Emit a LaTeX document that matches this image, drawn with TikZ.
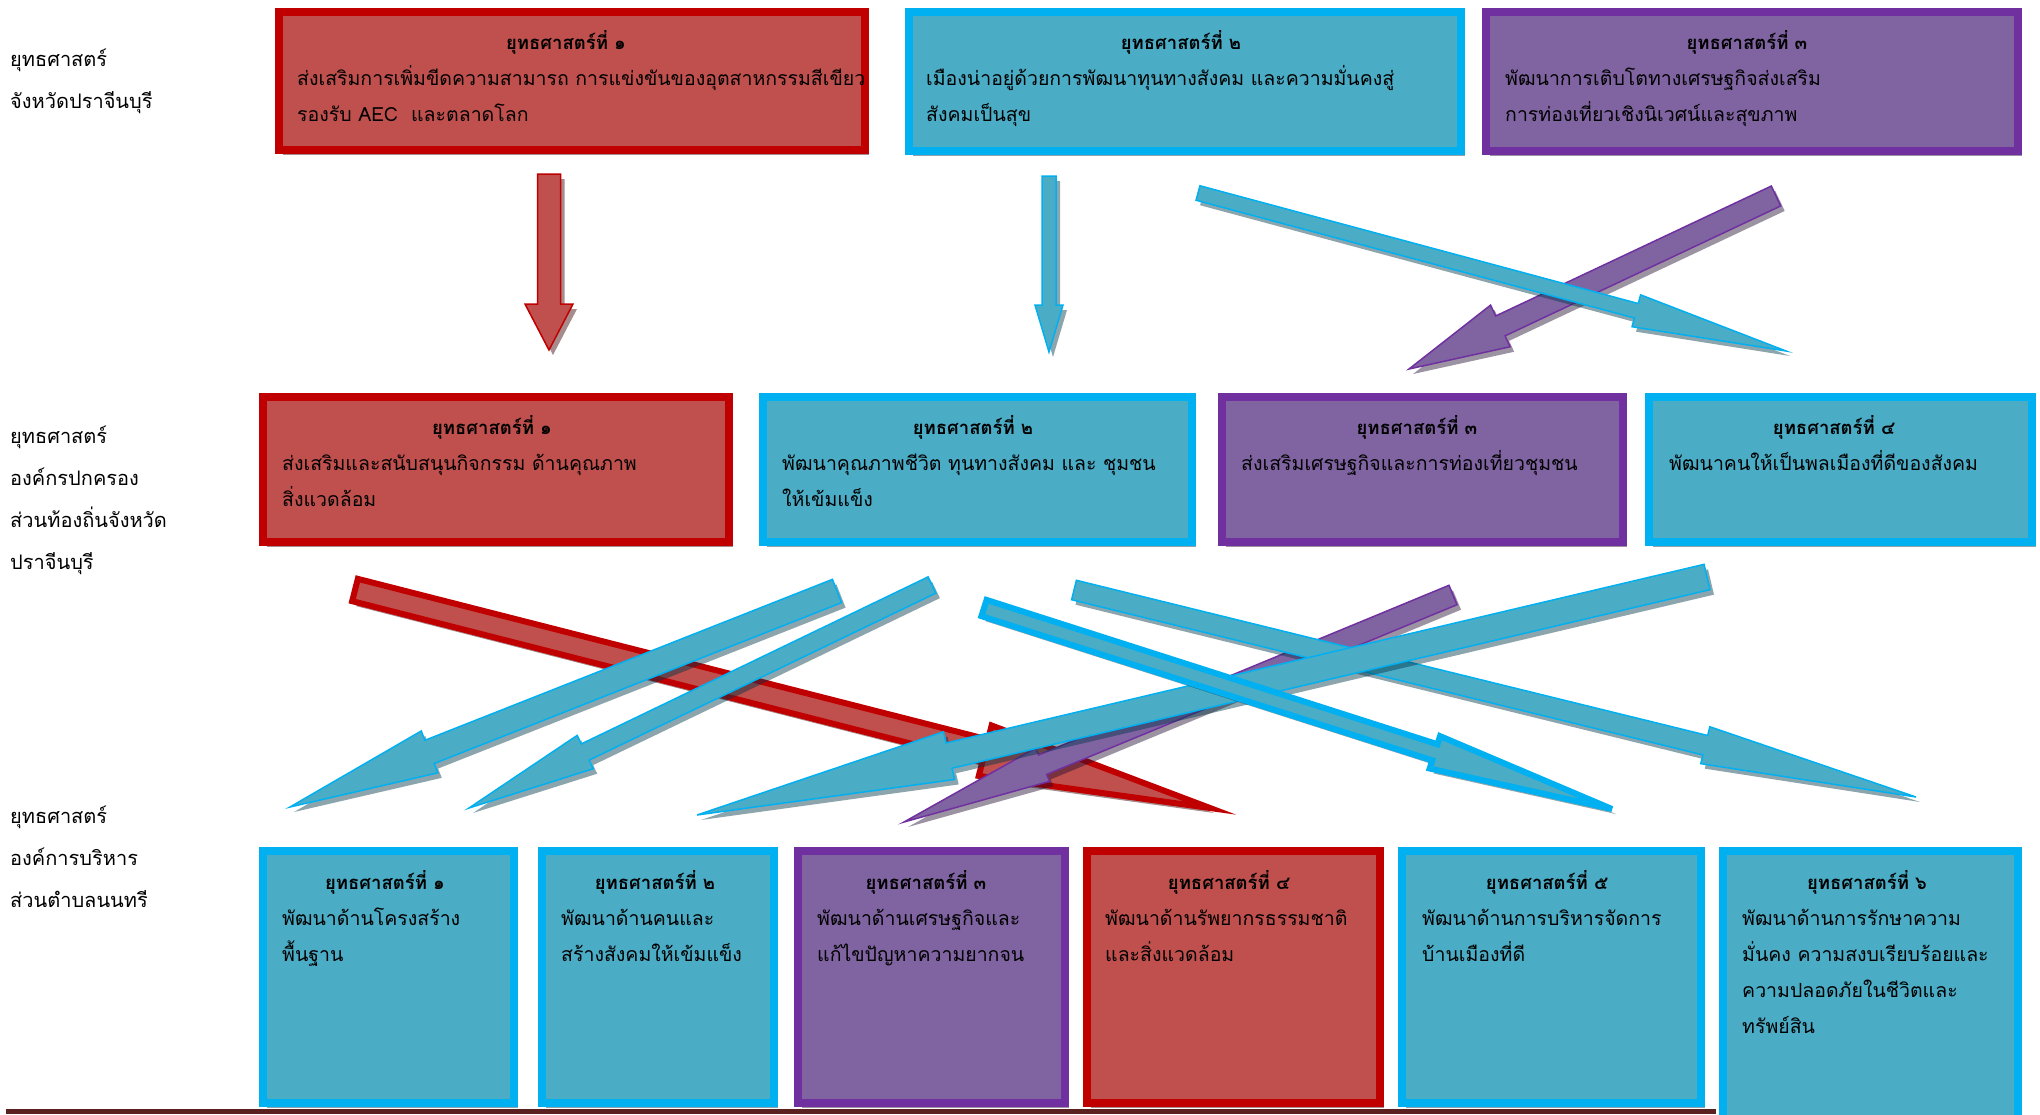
\documentclass[tikz,border=0pt]{standalone}
\usepackage{fontspec}
\setmainfont{Loma}[Script=Thai]
\usepackage{tikz}
\usetikzlibrary{calc,shadows}

\definecolor{fillred}{HTML}{C0504D}
\definecolor{bordred}{HTML}{C00000}
\definecolor{fillblue}{HTML}{4BACC6}
\definecolor{bordblue}{HTML}{00B0F0}
\definecolor{fillpurp}{HTML}{8064A2}
\definecolor{bordpurp}{HTML}{7030A0}
\definecolor{footclr}{HTML}{5B2120}

% block arrow: [style]{tail}{tip}{half shaft}{half head}{head length}
\newcommand{\fatarrow}[6][]{%
  \coordinate (#2hb) at ($(#3)!#6!(#2)$);
  \draw[#1] ($(#2)!#4!90:(#3)$) -- ($(#2hb)!#4!90:(#3)$) -- ($(#2hb)!#5!90:(#3)$)
    -- (#3) -- ($(#2hb)!#5!-90:(#3)$) -- ($(#2hb)!#4!-90:(#3)$) -- ($(#2)!#4!-90:(#3)$) -- cycle;}

\begin{document}
\begin{tikzpicture}[x=1pt,y=-1pt,
	shadowed/.style={drop shadow={shadow xshift=4pt,shadow yshift=-5pt,fill=#1!30!black,opacity=0.45}},
	sbox/.style={draw,line width=8pt,inner sep=0pt,anchor=north west},
	redbox/.style={sbox,draw=bordred,fill=fillred,shadowed=bordred},
	bluebox/.style={sbox,draw=bordblue,fill=fillblue,shadowed=bordblue},
	purpbox/.style={sbox,draw=bordpurp,fill=fillpurp,shadowed=bordpurp},
	headtxt/.style={font=\bfseries\fontsize{18.5}{24}\selectfont,inner sep=0pt,anchor=base},
	bodytxt/.style={font=\fontsize{19.5}{36}\selectfont,inner sep=0pt,align=left,anchor=base west},
	sidetxt/.style={font=\fontsize{20}{42}\selectfont,inner sep=0pt,align=left,anchor=base west},
	redarr/.style={fill=fillred,draw=bordred,line width=1.5pt,shadowed=bordred},
	bluearr/.style={fill=fillblue,draw=bordblue,line width=1.5pt,shadowed=bordblue},
	purparr/.style={fill=fillpurp,draw=bordpurp,line width=1.5pt,shadowed=bordpurp}]
	\useasboundingbox (0,0) rectangle (2040,1114);
	\fill [footclr] (6,1109) rectangle (1716,1114);

	% row labels (anchored at the last line)
	\node [sidetxt] (lab1) at (10,108) {ยุทธศาสตร์\\จังหวัดปราจีนบุรี};
	\node [sidetxt] (lab2) at (10,569) {ยุทธศาสตร์\\องค์กรปกครอง\\ส่วนท้องถิ่นจังหวัด\\ปราจีนบุรี};
	\node [sidetxt] (lab3) at (10,907) {ยุทธศาสตร์\\องค์การบริหาร\\ส่วนตำบลนนทรี};

	% province
	\node [redbox, minimum width=586, minimum height=138] (t1) at (275,8) {};
	\node [bluebox, minimum width=552, minimum height=139] (t2) at (905,8) {};
	\node [purpbox, minimum width=532, minimum height=139] (t3) at (1482,8) {};
	\node [headtxt] (t1h) at (566,49) {ยุทธศาสตร์ที่ ๑};
	\node [headtxt] (t2h) at (1181,49) {ยุทธศาสตร์ที่ ๒};
	\node [headtxt] (t3h) at (1747,49) {ยุทธศาสตร์ที่ ๓};
	\node [bodytxt] (t1b) at (297,121) {ส่งเสริมการเพิ่มขีดความสามารถ การแข่งขันของอุตสาหกรรมสีเขียว\\รองรับ AEC\ \ และตลาดโลก};
	\node [bodytxt] (t2b) at (926,121) {เมืองน่าอยู่ด้วยการพัฒนาทุนทางสังคม และความมั่นคงสู่\\สังคมเป็นสุข};
	\node [bodytxt] (t3b) at (1505,121) {พัฒนาการเติบโตทางเศรษฐกิจส่งเสริม\\การท่องเที่ยวเชิงนิเวศน์และสุขภาพ};

	% local government
	\node [redbox, minimum width=466, minimum height=145] (m1) at (259,393) {};
	\node [bluebox, minimum width=429, minimum height=145] (m2) at (759,393) {};
	\node [purpbox, minimum width=401, minimum height=145] (m3) at (1218,393) {};
	\node [bluebox, minimum width=383, minimum height=145] (m4) at (1645,393) {};
	\node [headtxt] (m1h) at (492,434) {ยุทธศาสตร์ที่ ๑};
	\node [headtxt] (m2h) at (973,434) {ยุทธศาสตร์ที่ ๒};
	\node [headtxt] (m3h) at (1417,434) {ยุทธศาสตร์ที่ ๓};
	\node [headtxt] (m4h) at (1834,434) {ยุทธศาสตร์ที่ ๔};
	\node [bodytxt] (m1b) at (282,506) {ส่งเสริมและสนับสนุนกิจกรรม ด้านคุณภาพ\\สิ่งแวดล้อม};
	\node [bodytxt] (m2b) at (782,506) {พัฒนาคุณภาพชีวิต ทุนทางสังคม และ ชุมชน\\ให้เข้มแข็ง};
	\node [bodytxt] (m3b) at (1241,470) {ส่งเสริมเศรษฐกิจและการท่องเที่ยวชุมชน};
	\node [bodytxt] (m4b) at (1669,470) {พัฒนาคนให้เป็นพลเมืองที่ดีของสังคม};

	% subdistrict
	\node [bluebox, minimum width=251, minimum height=252] (b1) at (259,847) {};
	\node [bluebox, minimum width=232, minimum height=252] (b2) at (538,847) {};
	\node [purpbox, minimum width=267, minimum height=252] (b3) at (794,847) {};
	\node [redbox, minimum width=293, minimum height=252] (b4) at (1083,847) {};
	\node [bluebox, minimum width=299, minimum height=252] (b5) at (1398,847) {};
	\node [bluebox, minimum width=295, minimum height=270] (b6) at (1719,847) {};
	\node [headtxt] (b1h) at (385,889) {ยุทธศาสตร์ที่ ๑};
	\node [headtxt] (b2h) at (655,889) {ยุทธศาสตร์ที่ ๒};
	\node [headtxt] (b3h) at (926,889) {ยุทธศาสตร์ที่ ๓};
	\node [headtxt] (b4h) at (1229,889) {ยุทธศาสตร์ที่ ๔};
	\node [headtxt] (b5h) at (1547,889) {ยุทธศาสตร์ที่ ๕};
	\node [headtxt] (b6h) at (1867,889) {ยุทธศาสตร์ที่ ๖};
	\node [bodytxt] (b1b) at (282,961) {พัฒนาด้านโครงสร้าง\\พื้นฐาน};
	\node [bodytxt] (b2b) at (561,961) {พัฒนาด้านคนและ\\สร้างสังคมให้เข้มแข็ง};
	\node [bodytxt] (b3b) at (817,961) {พัฒนาด้านเศรษฐกิจและ\\แก้ไขปัญหาความยากจน};
	\node [bodytxt] (b4b) at (1105,961) {พัฒนาด้านรัพยากรธรรมชาติ\\และสิ่งแวดล้อม};
	\node [bodytxt] (b5b) at (1422,961) {พัฒนาด้านการบริหารจัดการ\\บ้านเมืองที่ดี};
	\node [bodytxt] (b6b) at (1742,1033) {พัฒนาด้านการรักษาความ\\มั่นคง ความสงบเรียบร้อยและ\\ความปลอดภัยในชีวิตและ\\ทรัพย์สิน};

	% arrows province -> local
	\coordinate (s1) at (549,174);  \coordinate (e1) at (549,350);
	\coordinate (s2) at (1049,176); \coordinate (e2) at (1049,352);
	\coordinate (s3) at (1198,193); \coordinate (e3) at (1786,351);
	\coordinate (s4) at (1776,196); \coordinate (e4) at (1409,369);
	\fatarrow[redarr]{s1}{e1}{11.5pt}{24pt}{46pt}
	\fatarrow[bluearr]{s2}{e2}{7pt}{14pt}{47pt}
	\fatarrow[purparr]{s4}{e4}{11pt}{23pt}{101pt}
	\fatarrow[bluearr]{s3}{e3}{7.5pt}{16.5pt}{155pt}

	% arrows local -> subdistrict
	\coordinate (s5) at (355,590);  \coordinate (e5) at (1210,808);
	\coordinate (s6) at (837,591);  \coordinate (e6) at (290,807);
	\coordinate (s7) at (932,585);  \coordinate (e7) at (469,808);
	\coordinate (s8) at (984,608);  \coordinate (e8) at (1612,809);
	\coordinate (s9) at (1074,590); \coordinate (e9) at (1916,797);
	\coordinate (s10) at (1707,577); \coordinate (e10) at (697,815);
	\coordinate (s11) at (1453,595); \coordinate (e11) at (904,822);
	\fatarrow[redarr,line width=6pt]{s5}{e5}{11.5pt}{26pt}{232pt}
	\fatarrow[purparr]{s11}{e11}{10.5pt}{18pt}{150pt}
	\fatarrow[bluearr]{s6}{e6}{12.5pt}{22.5pt}{150pt}
	\fatarrow[bluearr]{s7}{e7}{9pt}{18.5pt}{129pt}
	\fatarrow[bluearr]{s9}{e9}{10pt}{19pt}{217pt}
	\fatarrow[bluearr]{s10}{e10}{13pt}{24.5pt}{259pt}
	\fatarrow[bluearr,line width=6pt]{s8}{e8}{8.5pt}{17pt}{186pt}
\end{tikzpicture}
\end{document}
